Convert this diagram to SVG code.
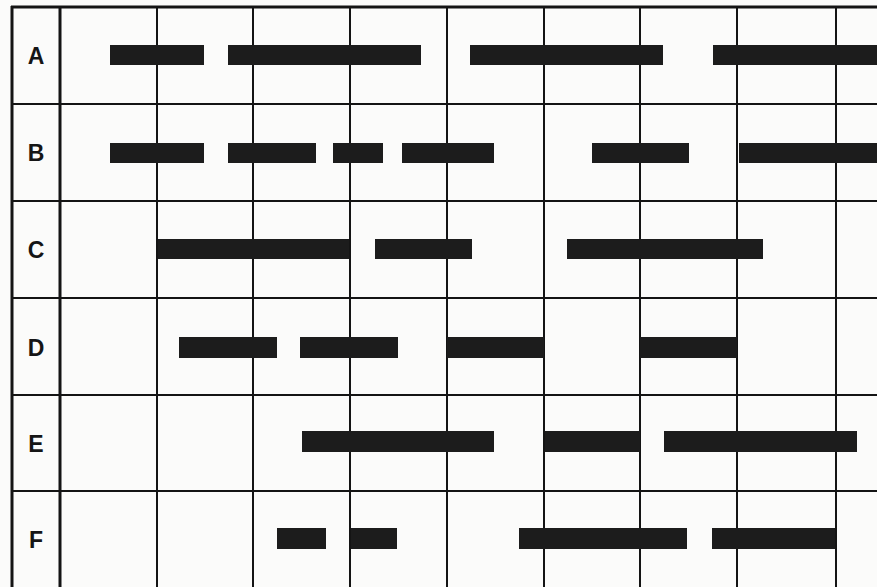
<svg xmlns="http://www.w3.org/2000/svg" width="877" height="587" viewBox="0 0 877 587">
<style>
.bg{fill:#fbfbfa}
.g{stroke:#141414;stroke-width:2;fill:none}
.gb{stroke:#141414;stroke-width:3;fill:none}
.bar{fill:#1c1c1c}
.lab{font-family:"Liberation Sans",Arial,sans-serif;font-weight:bold;font-size:23px;fill:#151515;text-anchor:middle}
</style>
<rect class="bg" x="0" y="0" width="877" height="587"/>
<g id="grid">
<line class="gb" x1="11" y1="7" x2="877" y2="7"/>
<line class="g" x1="11" y1="104" x2="877" y2="104"/>
<line class="g" x1="11" y1="201" x2="877" y2="201"/>
<line class="g" x1="11" y1="298" x2="877" y2="298"/>
<line class="g" x1="11" y1="395" x2="877" y2="395"/>
<line class="g" x1="11" y1="491" x2="877" y2="491"/>
<line class="gb" x1="12" y1="6" x2="12" y2="587"/>
<line class="gb" x1="60" y1="6" x2="60" y2="587"/>
<line class="g" x1="157" y1="6" x2="157" y2="587"/>
<line class="g" x1="253" y1="6" x2="253" y2="587"/>
<line class="g" x1="350" y1="6" x2="350" y2="587"/>
<line class="g" x1="447" y1="6" x2="447" y2="587"/>
<line class="g" x1="544" y1="6" x2="544" y2="587"/>
<line class="g" x1="640" y1="6" x2="640" y2="587"/>
<line class="g" x1="737" y1="6" x2="737" y2="587"/>
<line class="g" x1="836" y1="6" x2="836" y2="587"/>
</g>
<g id="rowA">
<text class="lab" x="36" y="64">A</text>
<rect class="bar" x="110" y="45" width="94" height="20"/>
<rect class="bar" x="228" y="45" width="193" height="20"/>
<rect class="bar" x="470" y="45" width="193" height="20"/>
<rect class="bar" x="713" y="45" width="164" height="20"/>
</g>
<g id="rowB">
<text class="lab" x="36" y="161">B</text>
<rect class="bar" x="110" y="143" width="94" height="20"/>
<rect class="bar" x="228" y="143" width="88" height="20"/>
<rect class="bar" x="333" y="143" width="50" height="20"/>
<rect class="bar" x="402" y="143" width="92" height="20"/>
<rect class="bar" x="592" y="143" width="97" height="20"/>
<rect class="bar" x="739" y="143" width="138" height="20"/>
</g>
<g id="rowC">
<text class="lab" x="36" y="258">C</text>
<rect class="bar" x="158" y="239" width="191" height="20"/>
<rect class="bar" x="375" y="239" width="97" height="20"/>
<rect class="bar" x="567" y="239" width="196" height="20"/>
</g>
<g id="rowD">
<text class="lab" x="36" y="356">D</text>
<rect class="bar" x="179" y="337" width="98" height="21"/>
<rect class="bar" x="300" y="337" width="98" height="21"/>
<rect class="bar" x="447" y="337" width="97" height="21"/>
<rect class="bar" x="640" y="337" width="97" height="21"/>
</g>
<g id="rowE">
<text class="lab" x="36" y="452">E</text>
<rect class="bar" x="302" y="431" width="192" height="21"/>
<rect class="bar" x="545" y="431" width="95" height="21"/>
<rect class="bar" x="664" y="431" width="193" height="21"/>
</g>
<g id="rowF">
<text class="lab" x="36" y="548">F</text>
<rect class="bar" x="277" y="528" width="49" height="21"/>
<rect class="bar" x="351" y="528" width="46" height="21"/>
<rect class="bar" x="519" y="528" width="168" height="21"/>
<rect class="bar" x="712" y="528" width="123" height="21"/>
</g>
</svg>
